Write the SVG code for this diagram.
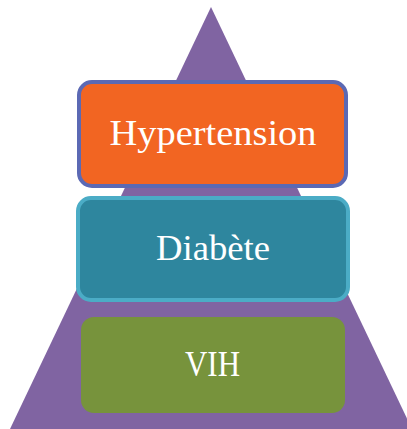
<svg xmlns="http://www.w3.org/2000/svg" width="407" height="429" viewBox="0 0 407 429">
  <style>
    .label { font-family: "Liberation Serif", "DejaVu Serif", serif; font-size: 35px; fill: #ffffff; text-anchor: middle; }
  </style>
  <!-- Pyramid backdrop -->
  <polygon id="pyramid" points="211,7 10,429 412,429" fill="#8064a2"/>

  <g id="hypertension">
    <rect x="79" y="82" width="267" height="104" rx="13" ry="13" fill="#f26522" stroke="#5b69b4" stroke-width="4"/>
    <text class="label" x="213" y="145" textLength="207" lengthAdjust="spacingAndGlyphs">Hypertension</text>
  </g>

  <g id="diabete">
    <rect x="78" y="198" width="270" height="102" rx="13" ry="13" fill="#2e869e" stroke="#4bacc6" stroke-width="4"/>
    <text class="label" x="213" y="260" textLength="114" lengthAdjust="spacingAndGlyphs">Diabète</text>
  </g>

  <g id="vih">
    <rect x="81" y="317" width="264" height="96" rx="13" ry="13" fill="#77933c"/>
    <text class="label" x="212.5" y="376" textLength="55" lengthAdjust="spacingAndGlyphs">VIH</text>
  </g>
</svg>
